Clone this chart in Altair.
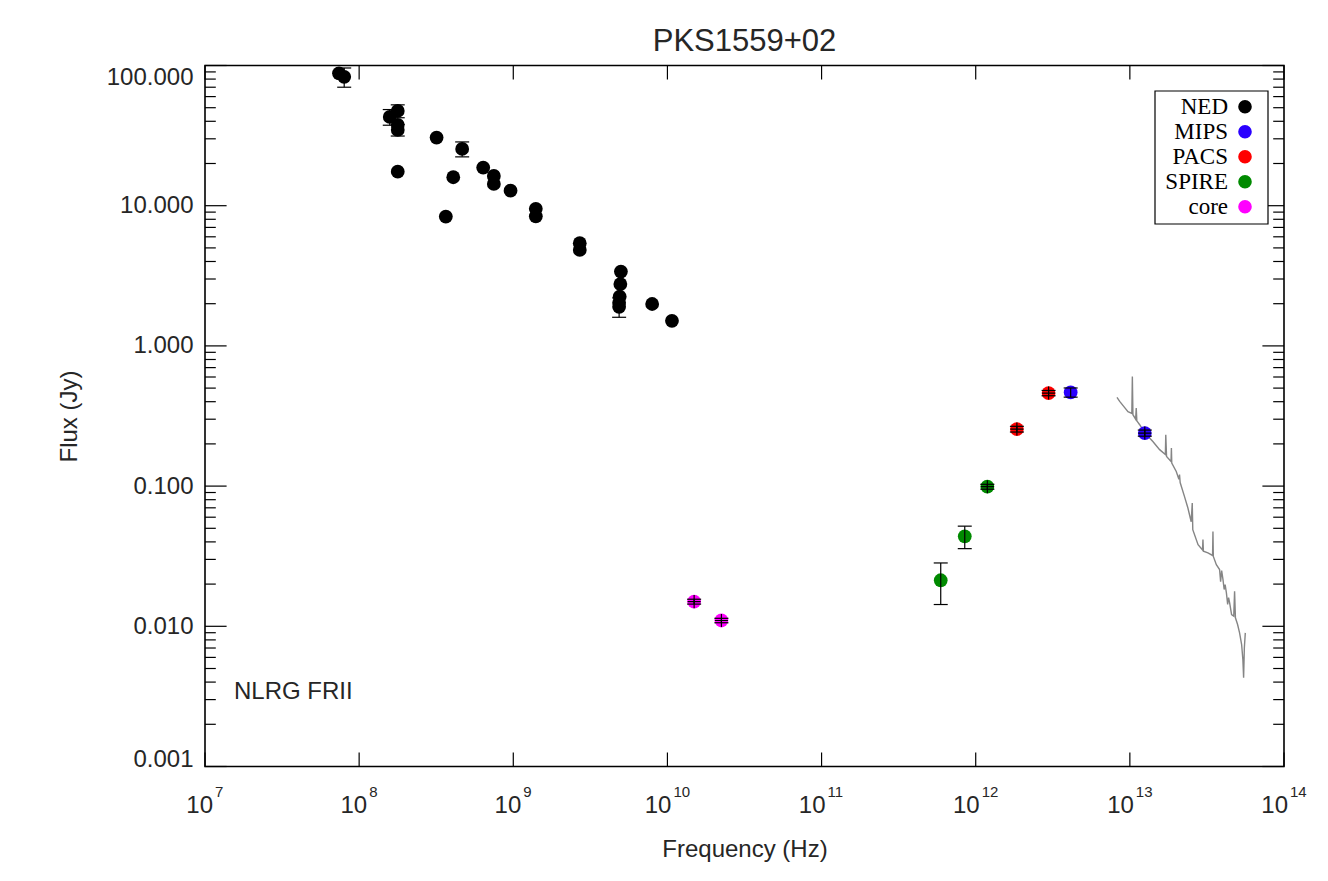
import altair as alt
import pandas as pd

# ---------------- data ----------------
ned_freq = [7.4e7, 8.0e7, 1.58e8, 1.78e8, 1.78e8, 1.78e8, 1.78e8, 3.18e8, 3.65e8,
            4.08e8, 4.66e8, 6.38e8, 7.48e8, 7.48e8, 9.6e8, 1.40e9, 1.40e9, 2.70e9,
            2.70e9, 4.99e9, 4.95e9, 4.90e9, 4.86e9, 4.86e9, 7.96e9, 1.07e10]
ned_flux = [88.0, 83.0, 43.0, 47.4, 37.7, 34.7, 17.5, 30.6, 8.36,
            15.96, 25.4, 18.7, 16.3, 14.3, 12.8, 9.5, 8.4, 5.4,
            4.84, 3.39, 2.76, 2.25, 2.03, 1.9, 1.99, 1.51]
ned_err = [0, 13.0, 5.5, 5.0, 0, 3.3, 0, 0, 0,
           0, 3.1, 0, 0, 0, 0, 0, 0, 0,
           0, 0, 0, 0, 0, 0.3, 0, 0]

mips_freq = [4.13e12, 1.25e13]
mips_flux = [0.466, 0.239]
mips_err = [0.035, 0.012]

pacs_freq = [1.85e12, 2.97e12]
pacs_flux = [0.255, 0.461]
pacs_err = [0.012, 0.02]

spire_freq = [5.93e11, 8.49e11, 1.19e12]
spire_flux = [0.0213, 0.0438, 0.099]
spire_err = [0.007, 0.008, 0.004]

core_freq = [1.49e10, 2.24e10]
core_flux = [0.0150, 0.0110]
core_err = [0.0006, 0.0004]

spec_freq = [8.25e12, 8.59e12, 9.12e12, 9.72e12, 1.030e13, 1.038e13, 1.047e13, 1.09e13,
             1.10e13, 1.11e13, 1.158e13, 1.253e13, 1.41e13, 1.56e13, 1.70e13, 1.71e13,
             1.73e13, 1.85e13, 1.86e13, 1.87e13, 2.00e13, 2.08e13, 2.10e13, 2.12e13,
             2.26e13, 2.38e13, 2.50e13, 2.54e13, 2.56e13, 2.77e13, 2.96e13, 2.98e13,
             3.00e13, 3.21e13, 3.44e13, 3.46e13, 3.48e13, 3.64e13, 3.82e13, 3.88e13,
             3.94e13, 4.02e13, 4.09e13, 4.15e13, 4.23e13, 4.31e13, 4.37e13, 4.44e13,
             4.57e13, 4.72e13, 4.78e13, 4.84e13, 5.00e13, 5.15e13, 5.31e13, 5.41e13,
             5.47e13, 5.53e13, 5.61e13]
spec_flux = [0.429, 0.402, 0.370, 0.340, 0.330, 0.605, 0.323, 0.300,
             0.360, 0.292, 0.274, 0.239, 0.208, 0.182, 0.168, 0.232,
             0.163, 0.150, 0.187, 0.146, 0.127, 0.112, 0.121, 0.106,
             0.0845, 0.0698, 0.0557, 0.0758, 0.0489, 0.0382, 0.0350, 0.0415,
             0.0343, 0.0334, 0.0320, 0.0475, 0.0315, 0.0275, 0.0254, 0.0208,
             0.0250, 0.0215, 0.0183, 0.0198, 0.0173, 0.0143, 0.0160, 0.0147,
             0.0121, 0.0118, 0.0178, 0.0115, 0.0103, 0.00897, 0.00741, 0.00579,
             0.00429, 0.00700, 0.00897]

legend_labels = ["NED", "MIPS", "PACS", "SPIRE", "core"]
legend_colors = ["#000000", "#2a00ff", "#ff0000", "#008a00", "#ff00ff"]

x_tick_values = [1e7, 1e8, 1e9, 1e10, 1e11, 1e12, 1e13, 1e14]
x_tick_exps = ["7", "8", "9", "10", "11", "12", "13", "14"]
y_tick_values = [0.001, 0.01, 0.1, 1.0, 10.0, 100.0]
y_minor_values = [m * d for d in [0.001, 0.01, 0.1, 1.0, 10.0] for m in range(2, 10)]

title_text = "PKS1559+02"
annotation = "NLRG FRII"

# ---------------- tables ----------------
rows = []
def add(group, fr, fl, er, cross):
    for i, (a, b, c) in enumerate(zip(fr, fl, er)):
        rows.append({"freq": a, "flux": b, "err": c, "group": group,
                     "cross": cross[i] if isinstance(cross, list) else cross})

add("NED", ned_freq, ned_flux, ned_err, 0)
add("SPIRE", spire_freq, spire_flux, spire_err, [0, 0, 1])
add("PACS", pacs_freq, pacs_flux, pacs_err, 1)
add("MIPS", mips_freq, mips_flux, mips_err, [0, 1])
add("core", core_freq, core_flux, core_err, 1)
pts = pd.DataFrame(rows)

spec = pd.DataFrame({"freq": spec_freq, "flux": spec_flux, "i": list(range(len(spec_freq)))})
yt = pd.DataFrame({"flux": y_tick_values})
ym = pd.DataFrame({"flux": y_minor_values})
xt = pd.DataFrame({"freq": x_tick_values, "exp": x_tick_exps})
leg = pd.DataFrame({"label": legend_labels})
one = pd.DataFrame({"txt": [annotation]})

W, H = 1079, 701
FONT = "Liberation Sans"
TXT = "#262626"

xs = alt.Scale(type="log", domain=[1e7, 1e14], nice=False)
ys = alt.Scale(type="log", domain=[0.001, 100], nice=False)
xaxis = alt.Axis(labels=False, ticks=False, domain=False, grid=False,
                 title="Frequency (Hz)", titleFontSize=24, titleFont=FONT,
                 titleFontWeight="normal", titleColor=TXT, titlePadding=71)
yaxis = alt.Axis(values=y_tick_values, format=".3f", ticks=False, domain=False, grid=False,
                 labelFontSize=24, labelFont=FONT, labelColor=TXT, labelPadding=12,
                 labelFlush=True,
                 labelOffset={"condition": {"test": "datum.value < 0.002", "value": 5},
                              "value": 0},
                 title="Flux (Jy)", titleFontSize=24, titleFont=FONT,
                 titleFontWeight="normal", titleColor=TXT, titlePadding=25)

def X(f="freq"):
    return alt.X(f"{f}:Q", scale=xs, axis=xaxis)

def Y(f="flux"):
    return alt.Y(f"{f}:Q", scale=ys, axis=yaxis)

cscale = alt.Scale(domain=legend_labels, range=legend_colors)

# axis ticks drawn inward
tick_color = "black"
ymaj_l = alt.Chart(yt).mark_rule(color=tick_color, strokeWidth=1.2).encode(
    y=Y(), x=alt.value(0), x2=alt.value(21.6))
ymaj_r = alt.Chart(yt).mark_rule(color=tick_color, strokeWidth=1.2).encode(
    y=Y(), x=alt.value(W - 21.6), x2=alt.value(W))
ymin_l = alt.Chart(ym).mark_rule(color=tick_color, strokeWidth=1.2).encode(
    y=Y(), x=alt.value(0), x2=alt.value(10.8))
ymin_r = alt.Chart(ym).mark_rule(color=tick_color, strokeWidth=1.2).encode(
    y=Y(), x=alt.value(W - 10.8), x2=alt.value(W))
xmaj_b = alt.Chart(xt).mark_rule(color=tick_color, strokeWidth=1.2).encode(
    x=X(), y=alt.value(H - 14), y2=alt.value(H))
xmaj_t = alt.Chart(xt).mark_rule(color=tick_color, strokeWidth=1.2).encode(
    x=X(), y=alt.value(0), y2=alt.value(14))

# x tick labels with superscript exponents (whole label centred on its tick)
one_digit = "length(datum.exp) == 1"
two_digit = "length(datum.exp) == 2"
xlab10_a = alt.Chart(xt).transform_filter(one_digit).mark_text(
    align="right", baseline="middle", dx=8, fontSize=24, font=FONT, color=TXT).encode(
    x=X(), y=alt.value(H + 39), text=alt.value("10"))
xlabexp_a = alt.Chart(xt).transform_filter(one_digit).mark_text(
    align="left", baseline="middle", dx=10, fontSize=15, font=FONT, color=TXT).encode(
    x=X(), y=alt.value(H + 25), text="exp:N")
xlab10_b = alt.Chart(xt).transform_filter(two_digit).mark_text(
    align="right", baseline="middle", dx=4, fontSize=24, font=FONT, color=TXT).encode(
    x=X(), y=alt.value(H + 39), text=alt.value("10"))
xlabexp_b = alt.Chart(xt).transform_filter(two_digit).mark_text(
    align="left", baseline="middle", dx=6, fontSize=15, font=FONT, color=TXT).encode(
    x=X(), y=alt.value(H + 25), text="exp:N")

# spectrum
spec_line = alt.Chart(spec).mark_line(color="#858585", strokeWidth=1.4).encode(
    x=X(), y=Y(), order="i:Q")

# points
dots = alt.Chart(pts).mark_circle(size=190, opacity=1).encode(
    x=X(), y=Y(), color=alt.Color("group:N", scale=cscale, legend=None))

err_base = alt.Chart(pts).transform_filter("datum.err > 0").transform_calculate(
    lo="datum.flux - datum.err", hi="datum.flux + datum.err")
err_rule = err_base.mark_rule(color="black", strokeWidth=1.2).encode(
    x=X(), y=Y("lo"), y2="hi:Q")
cap_lo = err_base.mark_rule(color="black", strokeWidth=1.2, xOffset=-7, x2Offset=7).encode(
    x=X(), x2="freq:Q", y=Y("lo"))
cap_hi = err_base.mark_rule(color="black", strokeWidth=1.2, xOffset=-7, x2Offset=7).encode(
    x=X(), x2="freq:Q", y=Y("hi"))
cross = alt.Chart(pts).transform_filter("datum.cross == 1").mark_point(
    shape="M-1,0H1M0,-1V1", filled=False, stroke="black", strokeWidth=1.2,
    size=170, opacity=1).encode(x=X(), y=Y())

note = alt.Chart(one).mark_text(align="left", baseline="middle", fontSize=24,
                                font=FONT, color=TXT).encode(
    x=alt.value(29), y=alt.value(626.5), text="txt:N")

main = alt.layer(ymin_l, ymin_r, ymaj_l, ymaj_r, xmaj_b, xmaj_t, spec_line, dots,
                 err_rule, cap_lo, cap_hi, cross, note,
                 xlab10_a, xlabexp_a, xlab10_b, xlabexp_b)

# legend box
ly = alt.Y("label:N", scale=alt.Scale(type="point", domain=legend_labels,
                                      range=[41.2, 141.2], padding=0), axis=None)
box = alt.Chart(one).mark_rect(fill="white", stroke="black", strokeWidth=1.2).encode(
    x=alt.value(950), x2=alt.value(1063), y=alt.value(25.5), y2=alt.value(158.5))
ltext = alt.Chart(leg).mark_text(align="right", baseline="middle", font="Liberation Serif",
                                 fontSize=23, color="black").encode(
    x=alt.value(1023), y=ly, text="label:N")
ldots = alt.Chart(leg).mark_circle(size=185, opacity=1).encode(
    x=alt.value(1040), y=ly, color=alt.Color("label:N", scale=cscale, legend=None))
legend = alt.layer(box, ltext, ldots)

chart = alt.layer(main, legend).resolve_scale(y="independent").properties(
    width=W, height=H,
    title=alt.TitleParams(title_text, fontSize=31, font=FONT, fontWeight="normal",
                          color=TXT, anchor="middle", frame="group", offset=0, dy=24,
                          baseline="bottom"),
    autosize=alt.AutoSizeParams(type="none"),
    padding={"left": 197, "top": 57.5, "right": 30, "bottom": 100},
    background="white",
).configure_view(stroke="black", strokeWidth=1.6)

chart.save("out.html", embed_options={"renderer": "svg", "actions": False})
